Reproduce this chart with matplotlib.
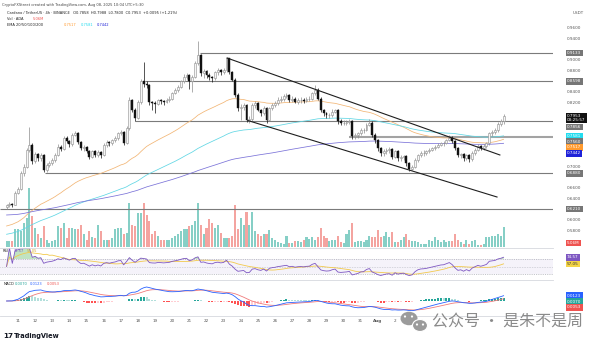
import numpy as np
import pandas as pd
import matplotlib
matplotlib.use("Agg")
import matplotlib.pyplot as plt
from matplotlib.patches import Ellipse

# ---------------- data: ADA/USDT, 4h candles (Jul 10 08:00 -> Aug 8 04:00) ----------------
first_open = 0.625
close = [
    0.628, 0.631, 0.629, 0.652, 0.658, 0.688, 0.700, 0.732, 0.741, 0.712,
    0.724, 0.716, 0.722, 0.694, 0.704, 0.708, 0.713, 0.722, 0.738, 0.734,
    0.754, 0.748, 0.743, 0.760, 0.763, 0.747, 0.735, 0.737, 0.729, 0.719,
    0.729, 0.722, 0.728, 0.722, 0.741, 0.747, 0.744, 0.750, 0.754, 0.763,
    0.766, 0.744, 0.772, 0.825, 0.806, 0.791, 0.822, 0.860, 0.856, 0.853,
    0.822, 0.819, 0.818, 0.825, 0.824, 0.822, 0.825, 0.828, 0.838, 0.844,
    0.850, 0.860, 0.869, 0.872, 0.860, 0.869, 0.894, 0.909, 0.875, 0.879,
    0.872, 0.868, 0.866, 0.878, 0.881, 0.877, 0.881, 0.903, 0.878, 0.863,
    0.835, 0.810, 0.813, 0.816, 0.788, 0.790, 0.815, 0.819, 0.807, 0.800,
    0.810, 0.788, 0.810, 0.816, 0.819, 0.825, 0.828, 0.832, 0.835, 0.825,
    0.828, 0.822, 0.825, 0.826, 0.824, 0.827, 0.828, 0.838, 0.844, 0.828,
    0.806, 0.800, 0.797, 0.798, 0.803, 0.806, 0.785, 0.782, 0.783, 0.784,
    0.786, 0.757, 0.760, 0.763, 0.769, 0.770, 0.779, 0.783, 0.760, 0.750,
    0.735, 0.726, 0.729, 0.732, 0.733, 0.719, 0.729, 0.716, 0.719, 0.720,
    0.707, 0.697, 0.700, 0.713, 0.722, 0.726, 0.727, 0.729, 0.732, 0.735,
    0.738, 0.741, 0.744, 0.745, 0.750, 0.755, 0.748, 0.735, 0.722, 0.724,
    0.716, 0.722, 0.714, 0.726, 0.732, 0.739, 0.735, 0.739, 0.744, 0.763,
    0.766, 0.769, 0.780, 0.7858, 0.7953,
]
high = [
    0.631, 0.634, 0.633, 0.655, 0.662, 0.692, 0.705, 0.736, 0.775, 0.745,
    0.728, 0.727, 0.726, 0.724, 0.708, 0.712, 0.716, 0.726, 0.742, 0.741,
    0.757, 0.757, 0.750, 0.763, 0.768, 0.765, 0.749, 0.741, 0.740, 0.731,
    0.732, 0.731, 0.731, 0.730, 0.744, 0.750, 0.749, 0.753, 0.757, 0.766,
    0.770, 0.768, 0.776, 0.830, 0.828, 0.810, 0.826, 0.864, 0.897, 0.860,
    0.855, 0.824, 0.823, 0.828, 0.828, 0.826, 0.829, 0.832, 0.841, 0.848,
    0.853, 0.863, 0.873, 0.876, 0.874, 0.872, 0.898, 0.935, 0.912, 0.883,
    0.882, 0.875, 0.871, 0.880, 0.885, 0.884, 0.885, 0.906, 0.904, 0.880,
    0.866, 0.838, 0.817, 0.820, 0.818, 0.796, 0.819, 0.823, 0.821, 0.809,
    0.814, 0.812, 0.813, 0.820, 0.823, 0.830, 0.832, 0.836, 0.839, 0.837,
    0.832, 0.830, 0.829, 0.830, 0.829, 0.830, 0.832, 0.841, 0.853, 0.847,
    0.830, 0.808, 0.803, 0.801, 0.809, 0.809, 0.808, 0.789, 0.787, 0.788,
    0.789, 0.788, 0.764, 0.766, 0.772, 0.773, 0.782, 0.789, 0.785, 0.763,
    0.752, 0.737, 0.733, 0.736, 0.737, 0.735, 0.732, 0.731, 0.722, 0.723,
    0.722, 0.709, 0.704, 0.716, 0.725, 0.729, 0.731, 0.732, 0.735, 0.738,
    0.741, 0.744, 0.747, 0.749, 0.753, 0.759, 0.757, 0.750, 0.737, 0.727,
    0.726, 0.725, 0.724, 0.729, 0.735, 0.742, 0.741, 0.742, 0.747, 0.766,
    0.770, 0.772, 0.784, 0.789, 0.7988,
]
low = [
    0.622, 0.626, 0.626, 0.628, 0.650, 0.656, 0.684, 0.698, 0.728, 0.705,
    0.708, 0.712, 0.712, 0.690, 0.690, 0.700, 0.704, 0.710, 0.720, 0.730,
    0.732, 0.745, 0.738, 0.740, 0.757, 0.743, 0.731, 0.730, 0.726, 0.715,
    0.716, 0.719, 0.718, 0.716, 0.720, 0.738, 0.740, 0.741, 0.746, 0.751,
    0.759, 0.741, 0.742, 0.770, 0.802, 0.785, 0.789, 0.818, 0.850, 0.848,
    0.815, 0.806, 0.800, 0.815, 0.818, 0.816, 0.819, 0.822, 0.826, 0.836,
    0.841, 0.848, 0.857, 0.864, 0.845, 0.840, 0.866, 0.890, 0.870, 0.866,
    0.866, 0.862, 0.858, 0.862, 0.872, 0.872, 0.874, 0.878, 0.874, 0.860,
    0.830, 0.805, 0.788, 0.806, 0.784, 0.782, 0.786, 0.810, 0.804, 0.795,
    0.797, 0.783, 0.785, 0.806, 0.812, 0.815, 0.822, 0.824, 0.829, 0.822,
    0.821, 0.819, 0.818, 0.820, 0.820, 0.821, 0.824, 0.826, 0.835, 0.825,
    0.802, 0.795, 0.792, 0.792, 0.794, 0.800, 0.781, 0.778, 0.778, 0.779,
    0.780, 0.752, 0.753, 0.755, 0.760, 0.764, 0.768, 0.776, 0.756, 0.745,
    0.730, 0.720, 0.721, 0.725, 0.727, 0.714, 0.717, 0.712, 0.711, 0.713,
    0.702, 0.693, 0.694, 0.698, 0.710, 0.719, 0.721, 0.723, 0.726, 0.729,
    0.732, 0.736, 0.739, 0.740, 0.743, 0.748, 0.744, 0.731, 0.718, 0.717,
    0.712, 0.713, 0.710, 0.712, 0.722, 0.729, 0.732, 0.732, 0.736, 0.741,
    0.758, 0.762, 0.766, 0.776, 0.7800,
]
volume_m = [
    1.5, 1.5, 1.5, 4.6, 4.5, 4.0, 6.1, 7.4, 15.0, 7.8,
    4.9, 3.2, 2.4, 5.3, 1.9, 1.1, 1.5, 1.9, 5.3, 4.9,
    6.1, 2.4, 4.9, 4.9, 4.5, 4.5, 5.7, 3.2, 1.9, 4.0,
    2.5, 2.4, 5.7, 4.0, 1.9, 1.7, 1.7, 2.4, 4.5, 4.9,
    4.9, 3.2, 3.6, 11.2, 5.7, 5.3, 8.7, 8.7, 11.2, 8.2,
    6.6, 3.2, 4.0, 2.8, 1.9, 1.9, 1.7, 1.9, 2.4, 2.8,
    3.2, 4.0, 4.5, 4.5, 5.3, 5.7, 6.6, 11.2, 5.7, 3.2,
    4.9, 7.0, 6.1, 4.9, 5.7, 3.6, 2.2, 2.2, 2.2, 2.8,
    10.6, 4.5, 7.4, 5.7, 8.9, 5.7, 8.9, 4.0, 3.2, 2.8,
    3.4, 3.2, 4.2, 2.4, 1.7, 1.3, 1.1, 0.7, 2.8, 1.1,
    1.1, 1.5, 1.5, 1.3, 1.7, 2.5, 2.1, 2.5, 1.7, 2.5,
    4.8, 2.9, 2.3, 1.4, 1.7, 1.7, 2.8, 1.3, 1.0, 3.4,
    4.2, 6.1, 1.3, 1.4, 1.4, 1.3, 1.7, 2.9, 2.5, 2.5,
    4.2, 2.5, 2.9, 3.9, 2.5, 3.8, 1.3, 1.3, 1.7, 2.5,
    3.4, 1.7, 1.4, 1.4, 1.3, 0.8, 0.8, 0.8, 1.7, 1.4,
    2.5, 1.9, 1.3, 1.7, 1.3, 1.4, 1.4, 3.4, 1.7, 1.3,
    0.8, 1.7, 0.8, 1.4, 1.7, 0.6, 0.4, 0.8, 2.5, 2.5,
    2.9, 2.9, 3.4, 2.9, 5.06,
]

# EMA settings (seeded with the averages carried in from earlier history)
ema_periods = [50, 100, 200]
ema_seeds = [0.588, 0.573, 0.610]
ema_colors = ["#f2b574", "#5fd6e4", "#7a72d8"]
ema_label_colors = ["#ff9a2e", "#22dcef", "#1f22d8"]

# horizontal support / resistance levels and the candle index where each starts
level_values = [0.9133, 0.8598, 0.7856, 0.7560, 0.6880, 0.6210]
level_starts = [67.7, 48.5, 45.0, 120.0, 13.5, -2.3]

# descending channel anchors (candle index, price)
channel_upper = [(77.2, 0.9037), (172.7, 0.7224)]
channel_lower = [(84.5, 0.7868), (171.7, 0.6438)]

# date ticks: candle index of each day's 00:00 bar
day_index = [4 + 6 * k for k in range(24)]
day_labels = [str(d) for d in range(11, 32)] + ["Aug", "2", "3"]

price_ticks = [0.58, 0.60, 0.62, 0.64, 0.66, 0.68, 0.70, 0.72, 0.74, 0.76,
               0.78, 0.80, 0.82, 0.84, 0.86, 0.88, 0.90, 0.92, 0.94, 0.96]

countdown = "03:25:57"

# ---------------- derived series ----------------
n = len(close)
idx = np.arange(n)
c = np.array(close)
o = np.r_[first_open, c[:-1]]
h = np.array(high)
l = np.array(low)
v = np.array(volume_m)
up = c >= o

def ema(series, period, seed):
    s = pd.Series(np.r_[seed, series])
    return s.ewm(span=period, adjust=False).mean().to_numpy()[1:]

emas = [ema(c, p, s) for p, s in zip(ema_periods, ema_seeds)]

cs = pd.Series(c)
d = cs.diff().fillna(0.0)
ag = d.clip(lower=0).ewm(alpha=1 / 14, adjust=False).mean()
al = (-d.clip(upper=0)).ewm(alpha=1 / 14, adjust=False).mean()
rsi = (100 - 100 / (1 + ag / al.replace(0, np.nan))).fillna(100.0)
rsi.iloc[0] = 50.0
rsi = rsi.to_numpy()
rsi_ma = pd.Series(rsi).rolling(14, min_periods=1).mean().to_numpy()

macd = (cs.ewm(span=12, adjust=False).mean() - cs.ewm(span=26, adjust=False).mean()).to_numpy()
signal = pd.Series(macd).ewm(span=9, adjust=False).mean().to_numpy()
hist = macd - signal

# ---------------- figure layout (pixel based) ----------------
W, H = 600, 345
fig = plt.figure(figsize=(W / 100, H / 100), dpi=100)
fig.patch.set_facecolor("white")

def rect(x0, y0, x1, y1):
    return [x0 / W, 1 - y1 / H, (x1 - x0) / W, (y1 - y0) / H]

XL = (-2.3, 191.3)
P_TOP_PX, P_BOT_PX = 8, 247
YTOP, YBOT = 0.9 + 52 * 0.00187, 0.9 - 187 * 0.00187

ax = fig.add_axes(rect(0, P_TOP_PX, 553, P_BOT_PX))
vax = fig.add_axes(rect(0, P_TOP_PX, 553, P_BOT_PX))
ax_rsi = fig.add_axes(rect(0, 248, 553, 279))
ax_macd = fig.add_axes(rect(0, 280, 553, 316))
ov = fig.add_axes([0, 0, 1, 1])

vax.set_zorder(1)
ax.set_zorder(2)
ax.patch.set_visible(False)
ov.set_zorder(10)
ov.patch.set_visible(False)
ov.set_xlim(0, W)
ov.set_ylim(H, 0)
ov.axis("off")

# ---------------- volume ----------------
vol_up, vol_dn = "#86cfc6", "#f4a4a0"
vax.bar(idx, v, width=0.72, color=np.where(up, vol_up, vol_dn), linewidth=0)
vax.set_xlim(*XL)
vax.set_ylim(0, 15.0 * 239 / 59)
vax.axis("off")

# ---------------- candles ----------------
up_face, up_edge = "#f6f6f6", "#8d8d8d"
ax.vlines(idx[up], l[up], h[up], color=up_edge, lw=0.5, zorder=3)
ax.vlines(idx[~up], l[~up], h[~up], color="#111111", lw=0.5, zorder=3)
body_lo = np.minimum(o, c)
body_h = np.maximum(np.abs(c - o), 0.0009)
ax.bar(idx[up], body_h[up], bottom=body_lo[up], width=0.68, color=up_face,
       edgecolor=up_edge, linewidth=0.4, zorder=4)
ax.bar(idx[~up], body_h[~up], bottom=body_lo[~up], width=0.68, color="#111111",
       edgecolor="#111111", linewidth=0.3, zorder=4)

for e, col in zip(emas, ema_colors):
    ax.plot(idx, e, color=col, lw=0.55, zorder=2)

for lv, st in zip(level_values, level_starts):
    if lv == 0.7560:
        ax.hlines(lv, st, XL[1], color="#a3a3a3", lw=1.5, zorder=1)
    else:
        ax.hlines(lv, st, XL[1], color="#7b7b7b", lw=0.8, zorder=1)

for seg in (channel_upper, channel_lower):
    ax.plot([seg[0][0], seg[1][0]], [seg[0][1], seg[1][1]], color="#1e1e1e", lw=0.8, zorder=5)

ax.set_xlim(*XL)
ax.set_ylim(YBOT, YTOP)
for sp in ax.spines.values():
    sp.set_visible(False)
ax.set_xticks([])
ax.set_yticks([])

# ---------------- RSI ----------------
ax_rsi.set_xlim(*XL)
ax_rsi.set_ylim(16.7, 99.3)
ax_rsi.axhspan(30, 70, color="#7e57c2", alpha=0.07, lw=0)
for lvl, ls in ((70, (0, (2, 2))), (50, (0, (1, 2))), (30, (0, (2, 2)))):
    ax_rsi.axhline(lvl, color="#9598a1", lw=0.4, ls=ls)
ax_rsi.fill_between(idx, 70, rsi, where=rsi > 70, color="#4caf50", alpha=0.35, lw=0, interpolate=True)
ax_rsi.plot(idx, rsi_ma, color="#f2c94c", lw=0.6)
ax_rsi.plot(idx, rsi, color="#7e57c2", lw=0.6)
ax_rsi.set_xticks([])
ax_rsi.set_yticks([])
for k, sp in ax_rsi.spines.items():
    sp.set_visible(k == "top")
ax_rsi.spines["top"].set_color("#d6d8de")
ax_rsi.spines["top"].set_linewidth(0.6)

# ---------------- MACD ----------------
pos_px, neg_px = 14.0, 12.0
lines_only = np.r_[macd[12:], signal[12:]]
scale = max(lines_only.max() / pos_px, -lines_only.min() / neg_px)
m_top, m_bot = 21 * scale, -15 * scale
prev = np.r_[0.0, hist[:-1]]
hcol = np.where(hist >= 0,
                np.where(hist >= prev, "#26a69a", "#b2dfdb"),
                np.where(hist <= prev, "#ff5252", "#ffcdd2"))
ax_macd.bar(idx, hist, width=0.7, color=hcol, linewidth=0)
ax_macd.plot(idx, signal, color="#f07b7b", lw=0.6)
ax_macd.plot(idx, macd, color="#2962ff", lw=0.6)
ax_macd.set_xlim(*XL)
ax_macd.set_ylim(m_bot, m_top)
ax_macd.set_yticks([])
ax_macd.set_xticks(day_index)
ax_macd.set_xticklabels(day_labels)
ax_macd.tick_params(axis="x", length=0, pad=2.2, labelsize=3.0, labelcolor="#555555")
for lab in ax_macd.get_xticklabels():
    if lab.get_text() == "Aug":
        lab.set_fontweight("bold")
for k, sp in ax_macd.spines.items():
    sp.set_visible(k in ("top", "bottom"))
    sp.set_color("#d6d8de")
    sp.set_linewidth(0.6)

# ---------------- right-hand value labels ----------------
def price_px(val):
    return P_TOP_PX + (YTOP - val) / (YTOP - YBOT) * (P_BOT_PX - P_TOP_PX)

def rsi_px(val):
    return 248 + (99.3 - val) / (99.3 - 16.7) * 31

def macd_px(val):
    return 280 + (m_top - val) / (m_top - m_bot) * 36

def stack(items):
    items = sorted(items, key=lambda t: t[0])
    out, bottom = [], -1e9
    for y, hgt, *rest in items:
        y = max(y, bottom + hgt / 2)
        out.append((y, hgt, *rest))
        bottom = y + hgt / 2
    return out

def box(ypx, text, fc, tc="white"):
    ov.text(567, ypx, text, fontsize=3.0, color=tc, ha="left", va="center",
            linespacing=1.0, zorder=20,
            bbox=dict(boxstyle="square,pad=0.3", fc=fc, ec="none"))

gray_box = "#767676"
main_items = []
for lv in level_values:
    main_items.append((price_px(lv), 5.8, f"{lv:.4f}", gray_box, "white"))
main_items.append((price_px(c[-1]) + 2.0, 12.6, f"{c[-1]:.4f}\n{countdown}", "#111111", "white"))
for e, col in zip(emas, ema_label_colors):
    main_items.append((price_px(e[-1]), 5.8, f"{e[-1]:.4f}", col, "white"))
placed = stack(main_items)
for y, hgt, txt, fc, tc in placed:
    box(y, txt, fc, tc)

# price scale: skip the tick labels that sit under a value box
for t in price_ticks:
    ty = price_px(t)
    covered = any(abs(ty - y) < hgt / 2 + 2.2 for y, hgt, *_ in placed)
    if not covered:
        ov.text(567, ty, f"{t:.4f}", fontsize=3.0, color="#555555", ha="left", va="center")

box(243, f"{v[-1]:.2f}M", "#ef5350")
for y, hgt, txt, fc, tc in stack([(rsi_px(rsi[-1]), 5.8, f"{rsi[-1]:.2f}", "#7e57c2", "white"),
                                  (rsi_px(rsi_ma[-1]), 5.8, f"{rsi_ma[-1]:.2f}", "#f5d547", "#333333")]):
    box(y, txt, fc, tc)
for y, hgt, txt, fc, tc in stack([(macd_px(macd[-1]), 5.8, f"{macd[-1]:.4f}", "#2962ff", "white"),
                                  (macd_px(hist[-1]), 5.8, f"{hist[-1]:.4f}", "#26a69a", "white"),
                                  (macd_px(signal[-1]), 5.8, f"{signal[-1]:.4f}", "#ef5350", "white")]):
    box(y, txt, fc, tc)

ov.text(573, 13, "USDT", fontsize=3.0, color="#555555", ha="left", va="center")

# ---------------- header texts ----------------
hdr = dict(fontsize=2.6, va="center", ha="left")
ov.text(2, 4.8, "CryptoFXStreet created with TradingView.com, Aug 08, 2025 10:04 UTC+5:30",
        color="#444444", **hdr)
chg = c[-1] - c[-2]
ov.text(7, 12.8, f"Cardano / TetherUS · 4h · BINANCE   O{o[-1]:.4f}  H{h[-1]:.4f}  "
        f"L{l[-1]:.4f}  C{c[-1]:.4f}  {chg:+.4f} ({chg / c[-2] * 100:+.2f}%)",
        color="#222222", **hdr)
ov.text(7, 19, "Vol · ADA", color="#222222", **hdr)
ov.text(33, 19, f"{v[-1]:.2f}M", color="#ef5350", **hdr)
ov.text(7, 24.8, "EMA 20/50/100/200", color="#222222", **hdr)
for xx, e, col in zip((64, 81, 97), emas, ema_label_colors):
    ov.text(xx, 24.8, f"{e[-1]:.4f}", color=col, **hdr)

ov.text(3, 251, "RSI", color="#222222", **hdr)
ov.text(14, 251, f"{rsi[-1]:.2f}", color="#7e57c2", **hdr)
ov.text(27, 251, f"{rsi_ma[-1]:.2f}", color="#d4a72c", **hdr)
ov.text(4, 284, "MACD", color="#222222", **hdr)
ov.text(15, 284, f"{hist[-1]:.4f}", color="#26a69a", **hdr)
ov.text(30, 284, f"{macd[-1]:.4f}", color="#2962ff", **hdr)
ov.text(47, 284, f"{signal[-1]:.4f}", color="#ef5350", **hdr)

# ---------------- branding and watermark ----------------
ov.text(3, 336, "17", fontsize=5.2, fontweight="heavy", color="#131722", ha="left", va="center")
ov.text(14, 336, "TradingView", fontsize=4.8, fontweight="bold", color="#131722", ha="left", va="center")

ov.add_patch(Ellipse((409, 318.5), 17, 13.5, fc="#9b9b9b", ec="none", zorder=15))
ov.add_patch(Ellipse((420, 325.5), 15, 12, fc="#9b9b9b", ec="white", lw=0.8, zorder=16))
for ex, ey in ((405, 316.5), (412, 316.5), (417, 324.5), (423, 324.5)):
    ov.add_patch(Ellipse((ex, ey), 2.2, 2.2, fc="white", ec="none", zorder=17))
ov.text(432, 322.5, "公众号 · 是朱不是周", fontsize=11.5, color="#8a8a8a", ha="left", va="center",
        family=["Noto Sans CJK SC", "DejaVu Sans"], zorder=18)

fig.savefig("out.png", dpi=100, facecolor="white")
